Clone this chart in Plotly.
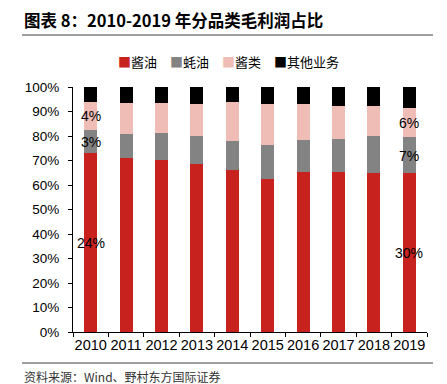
import plotly.graph_objects as go

years = ["2010", "2011", "2012", "2013", "2014", "2015", "2016", "2017", "2018", "2019"]
soy_sauce = [73.0, 71.2, 70.1, 68.5, 66.3, 62.5, 65.5, 65.3, 64.9, 64.7]
oyster_sauce = [9.5, 9.8, 11.2, 11.7, 11.7, 13.8, 12.9, 13.4, 14.9, 14.8]
sauces = [11.5, 12.5, 12.2, 13.0, 15.7, 16.9, 14.8, 13.7, 12.3, 11.9]
others = [6.0, 6.5, 6.5, 6.8, 6.3, 6.8, 6.8, 7.6, 7.9, 8.6]

series_names = ["酱油", "蚝油", "酱类", "其他业务"]
series_colors = ["#C8221F", "#838383", "#EFBDB6", "#000000"]

label_years = ["2010", "2010", "2010", "2019", "2019", "2019"]
label_pos = [88.3, 77.7, 36.2, 85.5, 72.0, 32.3]
label_text = ["4%", "3%", "24%", "6%", "7%", "30%"]

# page body has an 8px default margin; figure is sized so the picture lines up
W, H = 439, 376
L, T, R, B = 65, 79, 20, 52
PW, PH = W - L - R, H - T - B

fig = go.Figure()
for name, vals, col in zip(series_names, [soy_sauce, oyster_sauce, sauces, others], series_colors):
    fig.add_trace(go.Bar(x=years, y=vals, name=name, marker=dict(color=col, line=dict(width=0)),
                         width=0.37, hoverinfo="skip", showlegend=False))

for yr, yp, tx in zip(label_years, label_pos, label_text):
    fig.add_annotation(x=years.index(yr), y=yp, text=tx, showarrow=False, xref="x", yref="y",
                       font=dict(family="Liberation Sans, Arial", size=14, color="#000000"))

fig.update_layout(
    width=W, height=H,
    barmode="stack",
    paper_bgcolor="white", plot_bgcolor="white",
    margin=dict(l=L, r=R, t=T, b=B, autoexpand=False),
    font=dict(family="Liberation Sans, Arial", size=14, color="#000000"),
    xaxis=dict(type="category", range=[-0.5, len(years) - 0.5], showline=True, linecolor="#000000",
               linewidth=1, ticks="outside", tickson="boundaries", ticklen=4, tickcolor="#000000",
               showgrid=False, tickfont=dict(size=14.5), tickangle=0),
    yaxis=dict(range=[0, 100], dtick=10, ticksuffix="%", showline=True, linecolor="#000000", linewidth=1,
               ticks="outside", ticklen=4, tickcolor="#000000", showgrid=False, zeroline=False,
               tickfont=dict(size=13.5), ticklabelstandoff=6),
)

def px_x(ax):
    return (ax - 8 - L) / PW

def px_y(ay):
    return 1 - (ay - 8 - T) / PH

# legend row
gap = "　"
legend_text = gap.join(
    f"<span style='color:{c}'>■</span>{n}" for n, c in zip(series_names, series_colors)
)
fig.add_annotation(text=legend_text, xref="paper", yref="paper", x=px_x(228.5), y=px_y(61),
                   xanchor="center", yanchor="middle", showarrow=False,
                   font=dict(family="Noto Sans CJK SC", size=13, color="#000000"))

fig.add_annotation(text="<b>图表 8：2010-2019 年分品类毛利润占比</b>", xref="paper", yref="paper",
                   x=px_x(22), y=px_y(20), xanchor="left", yanchor="middle", showarrow=False,
                   font=dict(family="Noto Sans CJK SC", size=16.5, color="#000000"))
fig.add_annotation(text="资料来源：Wind、野村东方国际证券", xref="paper", yref="paper",
                   x=px_x(22), y=px_y(376), xanchor="left", yanchor="middle", showarrow=False,
                   font=dict(family="Noto Sans CJK SC", size=12, color="#333333"))
fig.add_shape(type="line", xref="paper", yref="paper", x0=px_x(22), x1=px_x(433),
              y0=px_y(35), y1=px_y(35), line=dict(color="#7F7F7F", width=1.5))
fig.add_shape(type="line", xref="paper", yref="paper", x0=px_x(22), x1=px_x(433),
              y0=px_y(363), y1=px_y(363), line=dict(color="#7F7F7F", width=1.5))

fig.write_html("out.html")
